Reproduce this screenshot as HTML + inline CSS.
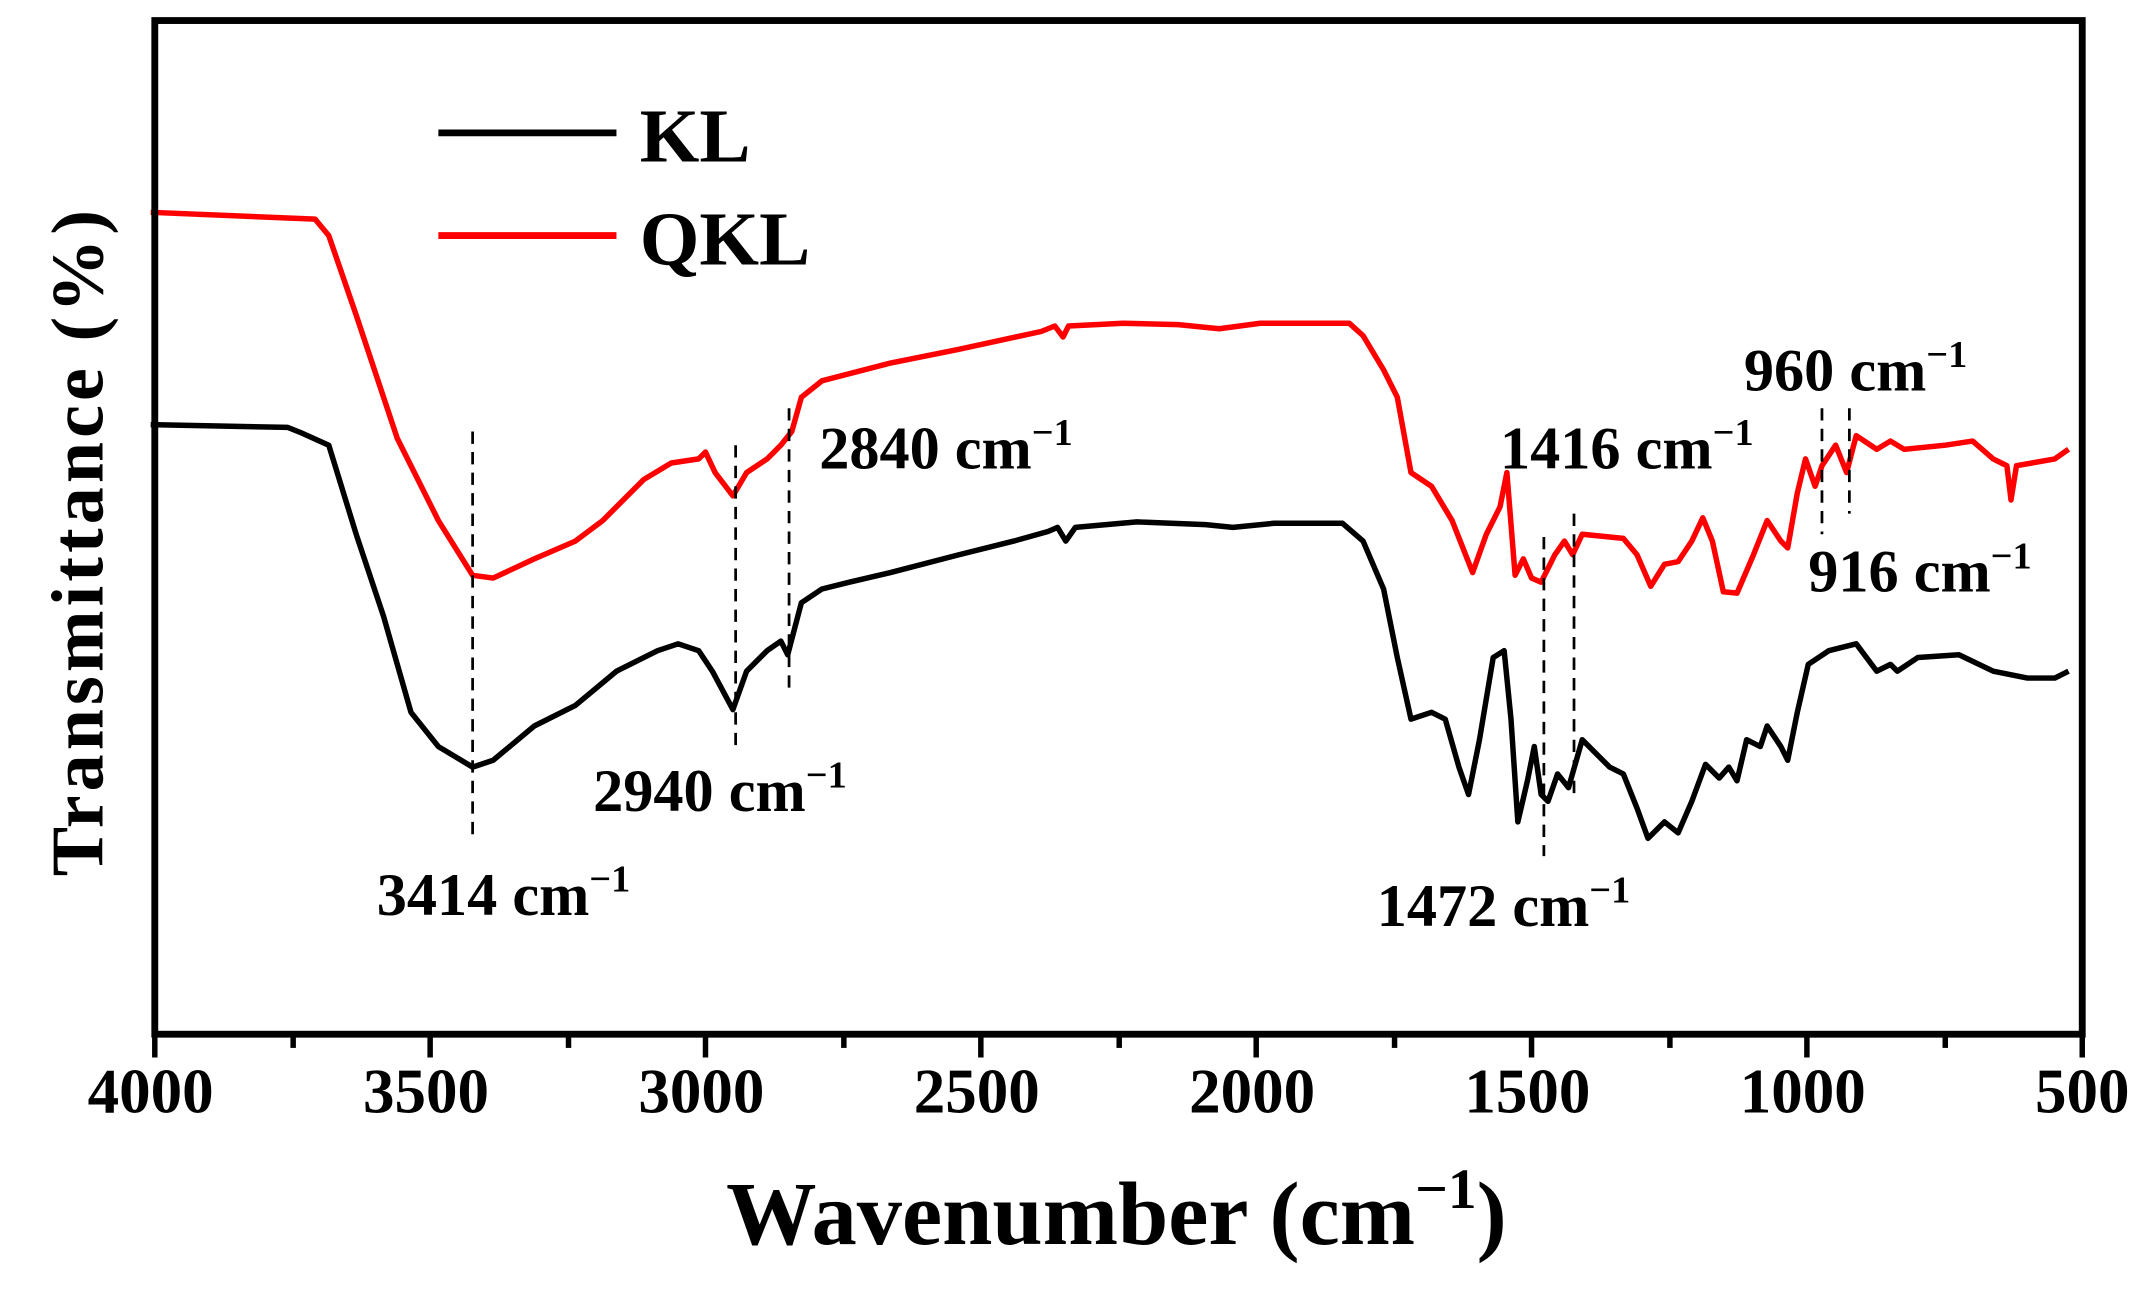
<!DOCTYPE html>
<html><head><meta charset="utf-8"><style>html,body{margin:0;padding:0;background:#fff}svg{display:block}</style></head>
<body>
<svg width="2148" height="1289" viewBox="0 0 1568 941" preserveAspectRatio="none" xmlns="http://www.w3.org/2000/svg" font-family="Liberation Serif, serif" font-weight="bold">
<rect x="0" y="0" width="1568" height="941" fill="#fff"/>
<polyline fill="none" stroke="#ff0000" stroke-width="4" stroke-linejoin="round" points="110,155 230,160 240,172 260,230 290,320 320,380 345,420 360,422 390,408 420,395 440,380 470,350 490,338 510,335 515,330 522,345 535,362 545,345 560,335 570,325 578,315 585,290 600,278 650,265 700,255 760,242 770,238 776,246 780,238 820,236 860,237 890,240 920,236 985,236 995,245 1010,270 1020,290 1030,345 1045,355 1060,380 1075,418 1085,390 1095,370 1100,345 1106,420 1112,408 1118,422 1125,425 1135,405 1142,395 1148,405 1155,390 1185,393 1195,405 1205,428 1215,412 1225,410 1235,395 1243,378 1250,395 1258,432 1268,433 1280,405 1290,380 1300,395 1305,400 1312,360 1318,335 1325,355 1330,340 1340,325 1348,345 1355,318 1370,328 1380,322 1390,328 1420,325 1440,322 1455,335 1465,340 1468,365 1472,340 1500,335 1510,328"/>
<polyline fill="none" stroke="#000" stroke-width="4" stroke-linejoin="round" points="110,310 210,312 220,316 240,325 260,390 280,450 300,520 320,545 345,560 360,555 390,530 420,515 450,490 480,475 495,470 510,475 520,490 535,518 545,490 560,475 570,468 575,478 585,440 600,430 620,425 650,418 700,405 740,395 765,388 772,385 778,395 785,385 830,381 880,383 900,385 930,382 980,382 995,395 1010,430 1020,480 1030,525 1045,520 1055,525 1065,560 1072,580 1080,540 1090,480 1098,475 1103,525 1108,600 1115,570 1120,545 1125,580 1130,585 1137,565 1145,575 1155,540 1165,550 1175,560 1185,565 1195,590 1203,612 1215,600 1225,608 1235,585 1245,558 1255,568 1262,560 1268,570 1275,540 1285,545 1290,530 1300,545 1305,555 1312,520 1320,485 1335,475 1355,470 1370,490 1380,485 1385,490 1400,480 1430,478 1455,490 1480,495 1500,495 1510,490"/>
<g stroke="#000" stroke-width="2" stroke-dasharray="9,6">
<line x1="345" y1="315" x2="345" y2="610"/>
<line x1="537" y1="325" x2="537" y2="550"/>
<line x1="576" y1="298" x2="576" y2="505"/>
<line x1="1127" y1="392" x2="1127" y2="625"/>
<line x1="1149" y1="375" x2="1149" y2="585"/>
<line x1="1330" y1="298" x2="1330" y2="390"/>
<line x1="1350" y1="298" x2="1350" y2="375"/>
</g>
<rect x="113" y="15" width="1407" height="740" fill="none" stroke="#000" stroke-width="5"/>
<g stroke="#000" stroke-width="4">
<line x1="113" y1="755" x2="113" y2="772"/><line x1="214" y1="755" x2="214" y2="765"/>
<line x1="314" y1="755" x2="314" y2="772"/><line x1="415" y1="755" x2="415" y2="765"/>
<line x1="515" y1="755" x2="515" y2="772"/><line x1="616" y1="755" x2="616" y2="765"/>
<line x1="716" y1="755" x2="716" y2="772"/><line x1="817" y1="755" x2="817" y2="765"/>
<line x1="917" y1="755" x2="917" y2="772"/><line x1="1018" y1="755" x2="1018" y2="765"/>
<line x1="1118" y1="755" x2="1118" y2="772"/><line x1="1219" y1="755" x2="1219" y2="765"/>
<line x1="1319" y1="755" x2="1319" y2="772"/><line x1="1420" y1="755" x2="1420" y2="765"/>
<line x1="1520" y1="755" x2="1520" y2="772"/>
</g>
<g font-size="46" text-anchor="middle">
<text x="110" y="812">4000</text><text x="311" y="812">3500</text><text x="512" y="812">3000</text>
<text x="713" y="812">2500</text><text x="914" y="812">2000</text><text x="1115" y="812">1500</text>
<text x="1316" y="812">1000</text><text x="1520" y="812">500</text>
</g>
<text x="815" y="908" font-size="66" text-anchor="middle">Wavenumber (cm<tspan font-size="42" dy="-26">−1</tspan><tspan dy="26">)</tspan></text>
<text transform="translate(75,395) rotate(-90)" font-size="54" text-anchor="middle" letter-spacing="3">Transmittance (%)</text>
<line x1="320" y1="97" x2="450" y2="97" stroke="#000" stroke-width="5"/>
<text x="467" y="118" font-size="56">KL</text>
<line x1="320" y1="172" x2="450" y2="172" stroke="#ff0000" stroke-width="5"/>
<text x="467" y="193" font-size="56">QKL</text>
<g font-size="44">
<text x="275" y="668">3414 cm<tspan font-size="28" dy="-17">−1</tspan></text>
<text x="433" y="592">2940 cm<tspan font-size="28" dy="-17">−1</tspan></text>
<text x="598" y="342">2840 cm<tspan font-size="28" dy="-17">−1</tspan></text>
<text x="1095" y="342">1416 cm<tspan font-size="28" dy="-17">−1</tspan></text>
<text x="1005" y="676">1472 cm<tspan font-size="28" dy="-17">−1</tspan></text>
<text x="1273" y="285">960 cm<tspan font-size="28" dy="-17">−1</tspan></text>
<text x="1320" y="432">916 cm<tspan font-size="28" dy="-17">−1</tspan></text>
</g>
</svg>
</body></html>
